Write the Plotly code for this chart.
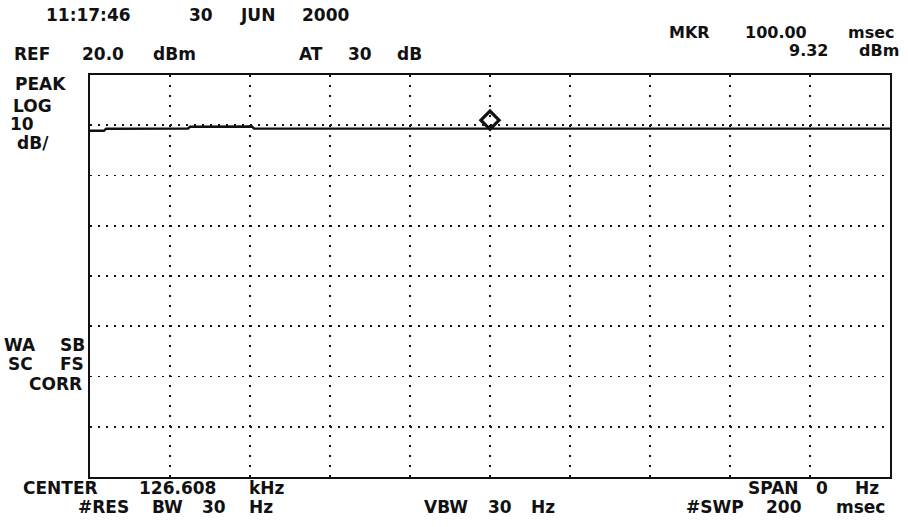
import plotly.graph_objects as go

sweep_time_ms = [0, 3.5, 4, 24.5, 25, 40.5, 41, 200]
trace_dbm = [8.9, 8.9, 9.3, 9.35, 9.7, 9.75, 9.32, 9.32]
marker_time_ms = [100.0]
marker_dbm = [9.32]

ref_level_dbm = 20.0
db_per_div = 10
n_vdiv = 8
span_ms = 200
n_hdiv = 10

# screen text: (word, center x px, center y px, font size) in window pixels
header_words = [
    ("11:17:46", 88, 15, 17), ("30", 201, 15, 17), ("JUN", 257, 15, 17), ("2000", 325, 15, 17),
    ("REF", 32, 54, 17), ("20.0", 103, 54, 17), ("dBm", 174, 54, 17),
    ("AT", 311, 54, 17), ("30", 360, 54, 17), ("dB", 409, 54, 17),
    ("MKR", 689, 33, 16), ("100.00", 776, 33, 16), ("msec", 871, 33, 16),
    ("9.32", 808, 50, 16), ("dBm", 879, 50, 16),
    ("PEAK", 40, 84, 17), ("LOG", 32, 106, 17), ("10", 22, 124, 17), ("dB/", 33, 143, 17),
    ("WA", 20, 345, 17), ("SB", 72, 345, 17), ("SC", 20, 364, 17), ("FS", 72, 364, 17),
    ("CORR", 55, 384, 17),
    ("CENTER", 60, 488, 17), ("126.608", 177, 488, 17), ("kHz", 267, 488, 17),
    ("#RES", 103, 507, 17), ("BW", 167, 507, 17), ("30", 214, 507, 17), ("Hz", 261, 507, 17),
    ("VBW", 446, 507, 17), ("30", 500, 507, 17), ("Hz", 543, 507, 17),
    ("SPAN", 773, 488, 17), ("0", 822, 488, 17), ("Hz", 867, 488, 17),
    ("#SWP", 715, 507, 17), ("200", 784, 507, 17), ("msec", 860, 507, 17),
]

W, H = 908, 527
box_l, box_r, box_t, box_b = 90, 890, 75, 477   # plot frame in window pixels
L, T = box_l, box_t
R, B = W - box_r, H - box_b
pw, ph = W - L - R, H - T - B

y_lo = ref_level_dbm - db_per_div * n_vdiv
y_hi = ref_level_dbm
# diamond marker is drawn sitting on top of the trace (pixel lift)
marker_lift_px = 8.5
lift_db = marker_lift_px / ph * (y_hi - y_lo)

fig = go.Figure()
fig.add_trace(go.Scatter(
    x=sweep_time_ms, y=trace_dbm, mode="lines",
    line=dict(color="#111111", width=2.4),
    hoverinfo="skip", showlegend=False,
))
fig.add_trace(go.Scatter(
    x=marker_time_ms, y=marker_dbm, mode="markers", yaxis="y2",
    marker=dict(symbol="diamond-open", size=14, color="#111111",
                line=dict(width=3.2, color="#111111")),
    hoverinfo="skip", showlegend=False,
))

annotations = []
for word, cx, cy, fs in header_words:
    annotations.append(dict(
        text=word, xref="paper", yref="paper",
        x=(cx - L) / pw, y=(H - B - cy) / ph,
        xanchor="center", yanchor="middle", showarrow=False,
        font=dict(family="DejaVu Sans", size=fs, color="#111111", weight="bold"),
    ))

fig.update_layout(
    width=W, height=H,
    margin=dict(l=L, r=R, t=T, b=B),
    paper_bgcolor="white", plot_bgcolor="white",
    xaxis=dict(range=[0, span_ms], dtick=span_ms / n_hdiv, tick0=0,
               showticklabels=False, ticks="", zeroline=False,
               showgrid=True, gridcolor="#111111", gridwidth=1.6,
               griddash="1.6px,8.4px",
               showline=True, linecolor="#111111", linewidth=2, mirror=True),
    yaxis=dict(range=[y_lo, y_hi], dtick=db_per_div, tick0=y_lo,
               showticklabels=False, ticks="", zeroline=False,
               showgrid=True, gridcolor="#111111", gridwidth=1.6,
               griddash="1.6px,6.4px",
               showline=True, linecolor="#111111", linewidth=2, mirror=True),
    yaxis2=dict(range=[y_lo - lift_db, y_hi - lift_db], overlaying="y",
                visible=False),
    annotations=annotations,
)

fig.write_html("out.html",
               config={"displayModeBar": False, "staticPlot": True},
               post_script="document.body.style.margin='0px';"
                           "document.body.style.overflow='hidden';")
